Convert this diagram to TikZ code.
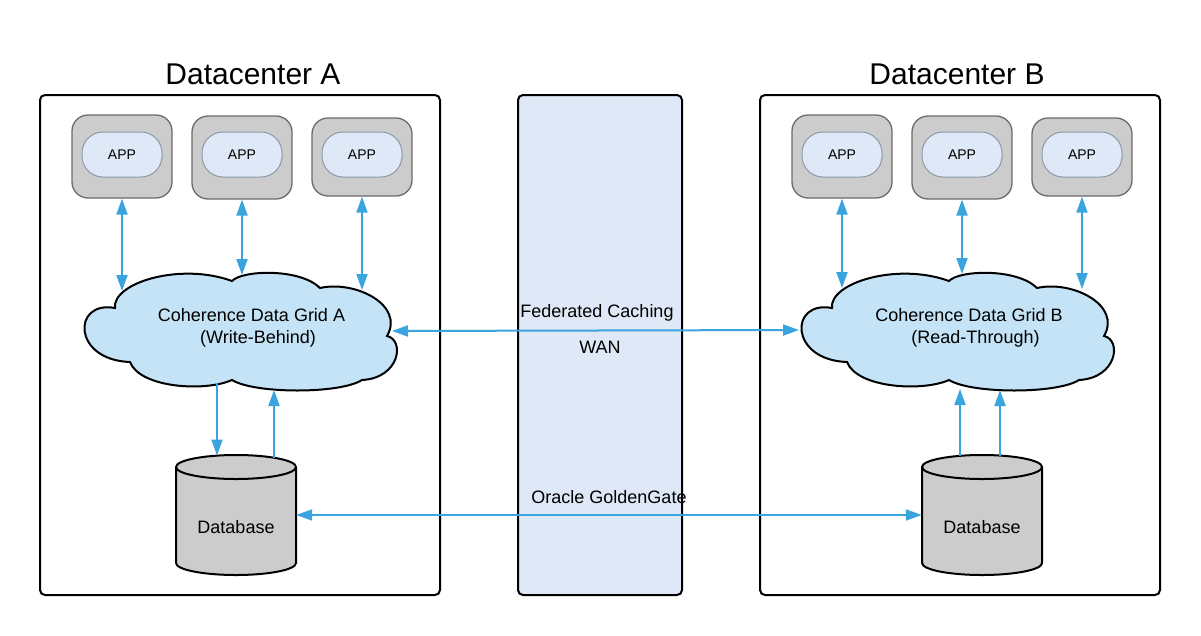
\documentclass[tikz,border=0pt]{standalone}
\usepackage{fontspec}
\setmainfont{Liberation Sans}
\usetikzlibrary{arrows.meta}
\definecolor{arrowblue}{HTML}{3AA4DE}
\definecolor{cloudfill}{HTML}{C4E3F6}
\definecolor{panefill}{HTML}{DFE8F6}
\definecolor{appgray}{HTML}{CCCCCC}
\definecolor{appedge}{HTML}{6B6B6B}
\definecolor{inneredge}{HTML}{8C99A8}
\newcommand\dcCloudPath{%
  (115,308) .. controls (112,283) and (180,262) .. (232,281)
  .. controls (242,270) and (300,268) .. (320,288)
  .. controls (355,280) and (405,305) .. (387,336)
  .. controls (405,340) and (400,378) .. (362,380)
  .. controls (340,394) and (255,394) .. (232,380)
  .. controls (205,392) and (140,388) .. (130,362)
  .. controls (72,360) and (72,300) .. (115,308)
  -- cycle}
\begin{document}
\begin{tikzpicture}[x=1pt,y=-1pt,
  every node/.style={font=\fontsize{18}{22}\selectfont},
  container/.style={draw=black,line width=2pt,rounded corners=5pt,minimum width=400pt,minimum height=500pt,inner sep=0pt},
  wanbox/.style={draw=black,line width=2pt,fill=panefill,rounded corners=5pt,minimum width=164pt,minimum height=500pt,inner sep=0pt},
  titletext/.style={font=\fontsize{30}{36}\selectfont},
  appouter/.style={draw=appedge,line width=1.3pt,fill=appgray,rounded corners=16pt,minimum width=100pt,minimum height=83pt,inner sep=0pt},
  appinner/.style={draw=inneredge,line width=1pt,fill=panefill,rounded corners=21pt,minimum width=80pt,minimum height=45pt,inner sep=0pt,font=\fontsize{14}{16}\selectfont},
  cloudbody/.style={draw=black,line width=2pt,fill=cloudfill},
  cylbody/.style={draw=black,line width=2pt,fill=appgray},
  dbbox/.style={minimum width=120pt,minimum height=120pt,inner sep=0pt},
  link/.style={draw=arrowblue,line width=2pt,{Triangle[length=16pt,width=11pt]}-{Triangle[length=16pt,width=11pt]}},
  flow/.style={draw=arrowblue,line width=2pt,-{Triangle[length=16pt,width=11pt]}}
]
\useasboundingbox (0,0) rectangle (1201,635);
\fill[white] (0,0) rectangle (1201,635);

% containers
\node[container] (dcA) at (240,345) {};
\node[container] (dcB) at (960,345) {};
\node[wanbox] (wan) at (600,345) {};
\node[titletext] (titleA) at (253,74) {Datacenter A};
\node[titletext] (titleB) at (957,74) {Datacenter B};

% clouds
\path[cloudbody] \dcCloudPath;
\begin{scope}[shift={(717,0)}]
\path[cloudbody] \dcCloudPath;
\end{scope}
\node[align=center] (gridA) at (251.5,328) {Coherence Data Grid A\\\hspace*{13pt}(Write-Behind)};
\node[align=center] (gridB) at (969,328) {Coherence Data Grid B\\\hspace*{13pt}(Read-Through)};

% databases
\foreach \cx/\nm in {236/dbA,982/dbB}{
  \path[cylbody] (\cx-60,467) -- (\cx-60,563) arc[start angle=180,end angle=0,x radius=60,y radius=12]
     -- (\cx+60,467) arc[start angle=0,end angle=-180,x radius=60,y radius=12] -- cycle;
  \draw[line width=2pt] (\cx-60,467) arc[start angle=180,end angle=0,x radius=60,y radius=12];
  \node[dbbox] (\nm) at (\cx,515) {};
  \node (\nm lbl) at (\cx,527) {Database};
}

% apps
\node[appouter] (appA1) at (122,156.5) {};
\node[appouter] (appA2) at (242,157.5) {};
\node[appouter,minimum height=78pt] (appA3) at (362,157) {};
\node[appouter] (appB1) at (842,156.5) {};
\node[appouter] (appB2) at (962,157.5) {};
\node[appouter,minimum height=78pt] (appB3) at (1082,157) {};
\node[appinner] (appA1i) at (122,154.5) {APP};
\node[appinner] (appA2i) at (242,154.5) {APP};
\node[appinner] (appA3i) at (362,154.5) {APP};
\node[appinner] (appB1i) at (842,154.5) {APP};
\node[appinner] (appB2i) at (962,154.5) {APP};
\node[appinner] (appB3i) at (1082,154.5) {APP};

% cloud anchor coordinates
\coordinate (cA1) at (122,291);
\coordinate (cA2) at (242,275);
\coordinate (cA3) at (362,290);
\coordinate (cB1) at (842,288);
\coordinate (cB2) at (962,274);
\coordinate (cB3) at (1082,289);
\coordinate (cAr) at (392,331);
\coordinate (cBl) at (799,330);
\coordinate (cAd1) at (217,383);
\coordinate (cAd2) at (274,390);
\coordinate (cBd1) at (960,389);
\coordinate (cBd2) at (1000,390);

% connectors
\draw[link] (appA1) -- (cA1);
\draw[link] (appA2) -- (cA2);
\draw[link] (appA3) -- (cA3);
\draw[link] (appB1) -- (cB1);
\draw[link] (appB2) -- (cB2);
\draw[link] (appB3) -- (cB3);
\draw[link] (cAr) -- (cBl);
\draw[link] (dbA.east) -- (dbB.west);
\draw[flow] (cAd1) -- (217,455.5);
\draw[flow] (274,457.7) -- (cAd2);
\draw[flow] (960,455.8) -- (cBd1);
\draw[flow] (1000,455.5) -- (cBd2);

% labels
\node (fed) at (597,313) {Federated Caching};
\node (wanlbl) at (600,347) {WAN};
\node (ogg) at (609,497) {Oracle GoldenGate};
\end{tikzpicture}
\end{document}
